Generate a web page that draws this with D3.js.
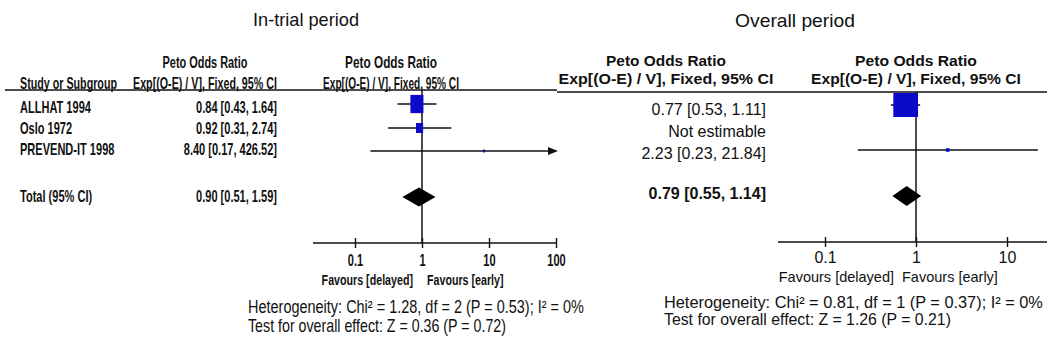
<!DOCTYPE html>
<html>
<head>
<meta charset="utf-8">
<script src="https://cdn.jsdelivr.net/npm/d3@7/dist/d3.min.js"></script>
<style>
  html, body { margin: 0; padding: 0; background: #fff; }
  svg { display: block; }
  text { fill: #111; }
</style>
</head>
<body>
<svg id="chart" width="1047" height="355"></svg>
<script>
// ---- data ----
const panelTitles = ["In-trial period", "Overall period"];
const studies = ["ALLHAT 1994", "Oslo 1972", "PREVEND-IT 1998"];
const totalLabel = "Total (95% CI)";

const trialOR = [0.84, 0.92, 8.40];
const trialLow = [0.43, 0.31, 0.17];
const trialHigh = [1.64, 2.74, 426.52];
const trialWeight = [75.5, 22.6, 1.9];
const trialTotal = [0.90, 0.51, 1.59];   // estimate, lower, upper

const overallOR = [0.77, null, 2.23];
const overallLow = [0.53, null, 0.23];
const overallHigh = [1.11, null, 21.84];
const overallWeight = [97.9, 0, 2.1];
const overallTotal = [0.79, 0.55, 1.14];

const trialTicks = [0.1, 1, 10, 100];
const overallTicks = [0.1, 1, 10];
const favours = ["Favours [delayed]", "Favours [early]"];

const trialStats = [
  "Heterogeneity: Chi\u00B2 = 1.28, df = 2 (P = 0.53); I\u00B2 = 0%",
  "Test for overall effect: Z = 0.36 (P = 0.72)"
];
const overallStats = [
  "Heterogeneity: Chi\u00B2 = 0.81, df = 1 (P = 0.37); I\u00B2 = 0%",
  "Test for overall effect: Z = 1.26 (P = 0.21)"
];

const colHeadTop = "Peto Odds Ratio";
const colHeadBottom = "Exp[(O-E) / V], Fixed, 95% CI";
const studyHead = "Study or Subgroup";

// ---- helpers ----
const svg = d3.select("#chart");
const FONT = "'Liberation Sans', Arial, sans-serif";
const fmt = d3.format(".2f");
const ciText = (o, l, h) => o == null ? "Not estimable" : `${fmt(o)} [${fmt(l)}, ${fmt(h)}]`;
const tickFmt = d => d < 1 ? String(d) : d3.format("d")(d);

// Text placed at (x, y); narrow lettering is obtained by a horizontal scale,
// either a fixed factor (squeeze) or one that fits a target width.
function label(g, x, y, str, opt = {}) {
  const t = g.append("text")
    .attr("x", 0).attr("y", 0)
    .attr("font-family", FONT)
    .attr("font-size", opt.size || 15)
    .attr("font-weight", opt.weight || "normal")
    .attr("text-anchor", opt.anchor || "start")
    .text(str);
  let s = 1;
  if (opt.width) s = opt.width / t.node().getComputedTextLength();
  else if (opt.squeeze) s = opt.squeeze;
  t.attr("transform", `translate(${x},${y}) scale(${s},1)`);
  return t;
}

function drawForest(cfg) {
  const g = svg.append("g");
  const x = d3.scaleLog().domain(cfg.domain).range(cfg.range);
  const xMax = cfg.range[1];
  const sq = cfg.squeeze, bw = cfg.bodyWeight;
  const hw = cfg.headW;

  // panel title
  label(g, cfg.titleX, cfg.titleY, cfg.title, { size: 18, anchor: "middle", width: cfg.titleW });

  // column headers
  const hOpt = (w, anchor) => ({ size: cfg.headSize, weight: cfg.headWeight, anchor, width: w });
  if (cfg.showStudies) label(g, cfg.studyX, cfg.headY2, studyHead, hOpt(hw.study, "start"));
  label(g, cfg.valColX, cfg.headY1, colHeadTop, hOpt(hw.valTop, "middle"));
  label(g, cfg.valColX, cfg.headY2, colHeadBottom, hOpt(hw.valBottom, "middle"));
  label(g, cfg.plotColX, cfg.headY1, colHeadTop, hOpt(hw.plotTop, "middle"));
  label(g, cfg.plotColX, cfg.headY2, colHeadBottom, hOpt(hw.plotBottom, "middle"));

  // header rule
  g.append("line")
    .attr("x1", cfg.ruleX[0]).attr("x2", cfg.ruleX[1])
    .attr("y1", cfg.ruleY).attr("y2", cfg.ruleY)
    .attr("stroke", "#111").attr("stroke-width", 1.6);

  // line of no effect
  g.append("line")
    .attr("x1", x(1)).attr("x2", x(1))
    .attr("y1", cfg.ruleY).attr("y2", cfg.axisY)
    .attr("stroke", "#111").attr("stroke-width", 1.5);

  // study rows
  studies.forEach((name, i) => {
    if (cfg.showStudies) label(g, cfg.studyX, cfg.textY[i], name, { size: cfg.rowSize, weight: bw, squeeze: sq });
    label(g, cfg.valRight, cfg.textY[i], ciText(cfg.or[i], cfg.lo[i], cfg.hi[i]),
      { size: cfg.rowSize, weight: bw, anchor: "end", squeeze: sq });

    if (cfg.or[i] == null) return;
    const y = cfg.markY[i];
    const clipped = cfg.hi[i] > cfg.domainLine[1];
    const xLo = x(Math.max(cfg.lo[i], cfg.domainLine[0]));
    const xHi = clipped ? xMax : x(cfg.hi[i]);
    g.append("line")
      .attr("x1", xLo).attr("x2", xHi)
      .attr("y1", y).attr("y2", y)
      .attr("stroke", "#111").attr("stroke-width", 1.5);
    if (clipped) {
      g.append("path")
        .attr("d", `M${xHi - 8},${y - 4} L${xHi + 2},${y} L${xHi - 8},${y + 4} Z`)
        .attr("fill", "#111");
    }
    const w = cfg.k * Math.sqrt(cfg.wt[i]);
    const h = w * cfg.aspect;
    g.append("rect")
      .attr("x", x(cfg.or[i]) - w / 2).attr("y", y - h / 2)
      .attr("width", w).attr("height", h)
      .attr("fill", "#0a0ac8");
  });

  // total row
  if (cfg.showStudies) {
    label(g, cfg.studyX, cfg.textY[3], totalLabel, { size: cfg.rowSize, weight: cfg.totalWeight, squeeze: sq });
  }
  label(g, cfg.valRight, cfg.textY[3], ciText(cfg.total[0], cfg.total[1], cfg.total[2]),
    { size: cfg.rowSize, weight: cfg.totalWeight, anchor: "end", squeeze: sq });
  const ty = cfg.markY[3], dh = cfg.diamondH;
  g.append("path")
    .attr("d", `M${x(cfg.total[1])},${ty} L${x(cfg.total[0])},${ty - dh} L${x(cfg.total[2])},${ty} L${x(cfg.total[0])},${ty + dh} Z`)
    .attr("fill", "#000");

  // x axis
  const axG = g.append("g").attr("transform", `translate(0,${cfg.axisY})`);
  axG.append("line")
    .attr("x1", cfg.axisX[0]).attr("x2", cfg.axisX[1])
    .attr("stroke", "#111").attr("stroke-width", 1.6);
  const axis = d3.axisBottom(x).tickValues(cfg.ticks).tickFormat(tickFmt).tickSize(5);
  const ax = axG.append("g").call(axis);
  ax.select(".domain").remove();
  ax.selectAll(".tick line").attr("y1", -5).attr("y2", 5).attr("stroke", "#111").attr("stroke-width", 1.4);
  ax.selectAll(".tick text")
    .attr("y", 0).attr("dy", 0)
    .attr("transform", `translate(0,${cfg.tickLabelDY}) scale(${sq || 1},1)`)
    .attr("font-family", FONT).attr("font-size", cfg.tickSize).attr("fill", "#111")
    .attr("font-weight", bw);

  // favours labels
  label(g, cfg.favX[0], cfg.favY, favours[0], { size: cfg.favSize, weight: bw, anchor: "end", squeeze: sq });
  label(g, cfg.favX[1], cfg.favY, favours[1], { size: cfg.favSize, weight: bw, anchor: "start", squeeze: sq });

  // statistics
  cfg.stats.forEach((s, i) => {
    label(g, cfg.statX, cfg.statY[i], s, { size: cfg.statSize, width: cfg.statW[i] });
  });
}

// in-trial panel (tall, narrow lettering)
drawForest({
  title: panelTitles[0], titleX: 306, titleY: 26, titleW: 106,
  showStudies: true, squeeze: 0.69, bodyWeight: "bold",
  headSize: 16, headWeight: "bold", rowSize: 16, totalWeight: "bold",
  headW: { study: 97, valTop: 85, valBottom: 144, plotTop: 92, plotBottom: 136 },
  studyX: 20, valColX: 205, valRight: 277, plotColX: 391,
  headY1: 68, headY2: 89,
  ruleX: [5, 557], ruleY: 90,
  domain: [0.1, 100], range: [355, 556], domainLine: [0.02, 100],
  axisX: [313, 557], axisY: 243, ticks: trialTicks, tickSize: 16, tickLabelDY: 23,
  or: trialOR, lo: trialLow, hi: trialHigh, wt: trialWeight, total: trialTotal,
  k: 1.5, aspect: 1.4, diamondH: 9.5,
  textY: [113, 134, 155, 202], markY: [104, 128, 151, 197],
  favX: [413, 427], favY: 285, favSize: 15.5,
  stats: trialStats, statX: 248, statY: [313, 332], statSize: 18, statW: [336, 258]
});

// overall panel
drawForest({
  title: panelTitles[1], titleX: 795, titleY: 27, titleW: 120,
  showStudies: false, squeeze: null, bodyWeight: "normal",
  headSize: 15, headWeight: "bold", rowSize: 16, totalWeight: "bold",
  headW: { valTop: 120, valBottom: 215, plotTop: 122, plotBottom: 210 },
  studyX: 0, valColX: 666, valRight: 766, plotColX: 916,
  headY1: 66, headY2: 84,
  ruleX: [557, 1047], ruleY: 92,
  domain: [0.1, 10], range: [825, 1007], domainLine: [0.02, 30],
  axisX: [778, 1047], axisY: 242, ticks: overallTicks, tickSize: 16, tickLabelDY: 21,
  or: overallOR, lo: overallLow, hi: overallHigh, wt: overallWeight, total: overallTotal,
  k: 2.5, aspect: 0.97, diamondH: 10,
  textY: [115, 137, 159, 199], markY: [105, 128, 150, 196],
  favX: [894, 902], favY: 282, favSize: 14.5,
  stats: overallStats, statX: 664, statY: [308, 325], statSize: 16, statW: [379, 287]
});
</script>
</body>
</html>
